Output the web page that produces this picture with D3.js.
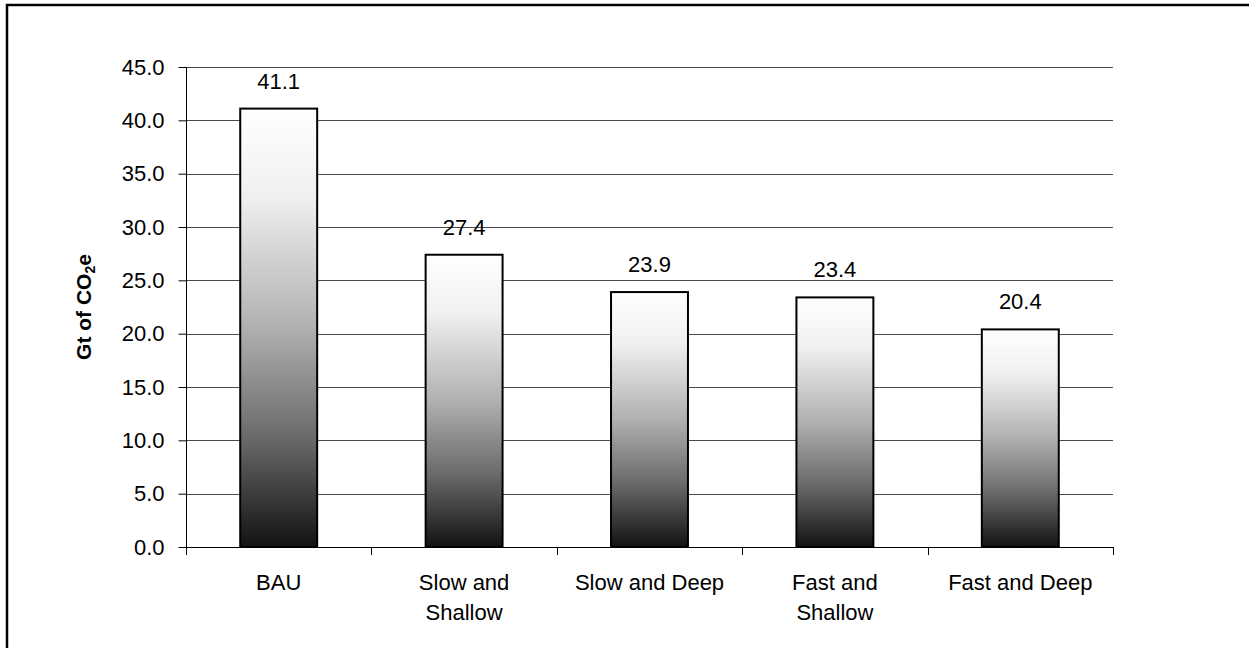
<!DOCTYPE html>
<html>
<head>
<meta charset="utf-8">
<script src="https://cdn.jsdelivr.net/npm/d3@7"></script>
<style>
  html, body { margin: 0; padding: 0; background: #fff; }
  svg { display: block; }
  text { font-family: Arial, "Liberation Sans", sans-serif; fill: #000; }
</style>
</head>
<body>
<script>
const categories = ["BAU", "Slow and|Shallow", "Slow and Deep", "Fast and|Shallow", "Fast and Deep"];
const values = [41.1, 27.4, 23.9, 23.4, 20.4];
const yTicks = [0, 5, 10, 15, 20, 25, 30, 35, 40, 45];
const yTitle = "Gt of CO";

const W = 1249, H = 648;
const margin = { left: 186, right: 136, top: 67, bottom: 101 };
const svg = d3.select("body").append("svg").attr("width", W).attr("height", H);

// outer frame (cut off at right/bottom as in reference)
svg.append("rect").attr("x", 7).attr("y", 5).attr("width", 1400).attr("height", 800)
  .attr("fill", "none").attr("stroke", "#000").attr("stroke-width", 2.5);

const x = d3.scaleBand().domain(categories).range([margin.left, W - margin.right]).paddingInner(0).paddingOuter(0);
const y = d3.scaleLinear().domain([0, 45]).range([H - margin.bottom, margin.top]);

const defs = svg.append("defs");
const grad = defs.append("linearGradient").attr("id", "barGrad").attr("x1", 0).attr("y1", 0).attr("x2", 0).attr("y2", 1);
[[0, "#ffffff"], [0.2, "#f0f0f0"], [0.5, "#b0b0b0"], [0.75, "#6a6a6a"], [1, "#121212"]]
  .forEach(([o, c]) => grad.append("stop").attr("offset", o).attr("stop-color", c));

// gridlines
svg.append("g").selectAll("line").data(yTicks.filter(t => t > 0)).join("line")
  .attr("x1", margin.left).attr("x2", W - margin.right)
  .attr("y1", d => Math.round(y(d)) + 0.5).attr("y2", d => Math.round(y(d)) + 0.5)
  .attr("stroke", "#4a4a4a").attr("stroke-width", 1.2);

// y axis
const yAxis = d3.axisLeft(y).tickValues(yTicks).tickFormat(d3.format(".1f")).tickSize(8).tickPadding(14);
const gy = svg.append("g").attr("transform", `translate(${margin.left + 0.5},0)`).call(yAxis);
gy.select(".domain").attr("stroke", "#000").attr("d", `M0,${y(0)}V${y(45)}`);
gy.selectAll(".tick line").attr("stroke", "#000");
gy.selectAll(".tick text").attr("font-size", 22).attr("font-family", "Arial, 'Liberation Sans', sans-serif").attr("fill", "#000");

// x axis
const bounds = categories.map(c => x(c)).concat([x(categories[categories.length - 1]) + x.bandwidth()]);
const gx = svg.append("g");
gx.append("line").attr("x1", margin.left).attr("x2", W - margin.right)
  .attr("y1", Math.round(y(0)) + 0.5).attr("y2", Math.round(y(0)) + 0.5).attr("stroke", "#000");
gx.selectAll("line.tk").data(bounds).join("line").attr("class", "tk")
  .attr("x1", d => Math.round(d) + 0.5).attr("x2", d => Math.round(d) + 0.5)
  .attr("y1", y(0)).attr("y2", y(0) + 8).attr("stroke", "#000");

const labels = svg.append("g").selectAll("text").data(categories).join("text")
  .attr("text-anchor", "middle").attr("font-size", 22)
  .attr("x", d => x(d) + x.bandwidth() / 2).attr("y", 590);
labels.each(function(d) {
  const parts = d.split("|");
  d3.select(this).selectAll("tspan").data(parts).join("tspan")
    .attr("x", x(d) + x.bandwidth() / 2).attr("dy", (p, i) => i === 0 ? 0 : 30).text(p => p);
});

// bars
const bw = x.bandwidth() * 0.415;
svg.append("g").selectAll("rect").data(values).join("rect")
  .attr("x", (d, i) => x(categories[i]) + (x.bandwidth() - bw) / 2)
  .attr("y", d => y(d))
  .attr("width", bw)
  .attr("height", d => y(0) - y(d))
  .attr("fill", "url(#barGrad)")
  .attr("stroke", "#000").attr("stroke-width", 2);

// value labels
svg.append("g").selectAll("text").data(values).join("text")
  .attr("text-anchor", "middle").attr("font-size", 22)
  .attr("x", (d, i) => x(categories[i]) + x.bandwidth() / 2)
  .attr("y", d => y(d) - 20)
  .text(d => d.toFixed(1));

// y title
const t = svg.append("text").attr("transform", `translate(91,${(y(0) + y(45)) / 2}) rotate(-90)`)
  .attr("text-anchor", "middle").attr("font-size", 21).attr("font-weight", "bold");
t.append("tspan").text(yTitle);
t.append("tspan").attr("font-size", 14).attr("dy", 4).text("2");
t.append("tspan").attr("dy", -4).text("e");
</script>
</body>
</html>
